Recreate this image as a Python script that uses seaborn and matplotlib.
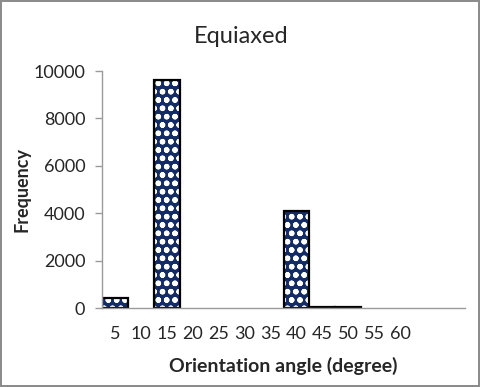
import matplotlib
matplotlib.use('Agg')
import matplotlib.pyplot as plt
import numpy as np
import seaborn as sns
import pandas as pd

# bin labels and counts
angles = ['5', '10', '15', '20', '25', '30', '35', '40', '45', '50', '55', '60']
counts = [430, 0, 9600, 0, 0, 0, 0, 4100, 50, 50, 0, 0]
n_bins = 14  # axis shows two extra empty bins after 60
y_ticks = [0, 2000, 4000, 6000, 8000, 10000]

df = pd.DataFrame({'angle': angles, 'count': counts})

sns.set_style('white')
plt.rcParams['font.family'] = ['Lato', 'DejaVu Sans']
plt.rcParams['hatch.linewidth'] = 1.6

fig = plt.figure(figsize=(4.8, 3.87), dpi=100)
ax = fig.add_axes([0.2125, 0.204, 0.7565, 0.6125])

# patterned fill
sns.barplot(data=df, x='angle', y='count', order=angles, color='#142c66',
            edgecolor='white', linewidth=0, width=1.0, saturation=1, ax=ax)
for p in ax.patches:
    p.set_hatch('oo')
    p.set_edgecolor('white')
    p.set_linewidth(0)

# black outlines
n_fill = len(ax.patches)
sns.barplot(data=df, x='angle', y='count', order=angles, fill=False,
            edgecolor='black', linewidth=1.6, width=1.0, ax=ax)
for p in ax.patches[n_fill:]:
    if p.get_height() == 0:
        p.set_linewidth(0)

ax.set_xlim(-0.5, n_bins - 0.5)
ax.set_ylim(0, 10000)
ax.set_yticks(y_ticks)
ax.set_yticklabels([str(v) for v in y_ticks], fontsize=13)

ax.set_xticks(range(len(angles)))
ax.set_xticklabels(angles, fontsize=13)
ax.set_xticks(np.arange(-0.5, n_bins, 1.0), minor=True)
ax.tick_params(axis='x', which='major', length=0, pad=13)
ax.tick_params(axis='x', which='minor', length=6, width=1, color='#9a9a9a', direction='out')
ax.tick_params(axis='y', length=5, width=1, color='#9a9a9a', direction='out', left=True, pad=7)

for s in ['top', 'right']:
    ax.spines[s].set_visible(False)
for s in ['left', 'bottom']:
    ax.spines[s].set_color('#9a9a9a')
    ax.spines[s].set_linewidth(1)

ax.set_xlabel('Orientation angle (degree)', fontsize=14, fontweight='bold')
ax.set_ylabel('Frequency', fontsize=13, fontweight='bold')
ax.xaxis.set_label_coords(0.5, -0.207)
ax.yaxis.set_label_coords(-0.198, 0.5)
fig.text(0.502, 0.905, 'Equiaxed', fontsize=17, ha='center', va='center')

fig.patch.set_edgecolor('#8c8c8c')
fig.patch.set_linewidth(1.5)

fig.savefig('out.png', dpi=100)
